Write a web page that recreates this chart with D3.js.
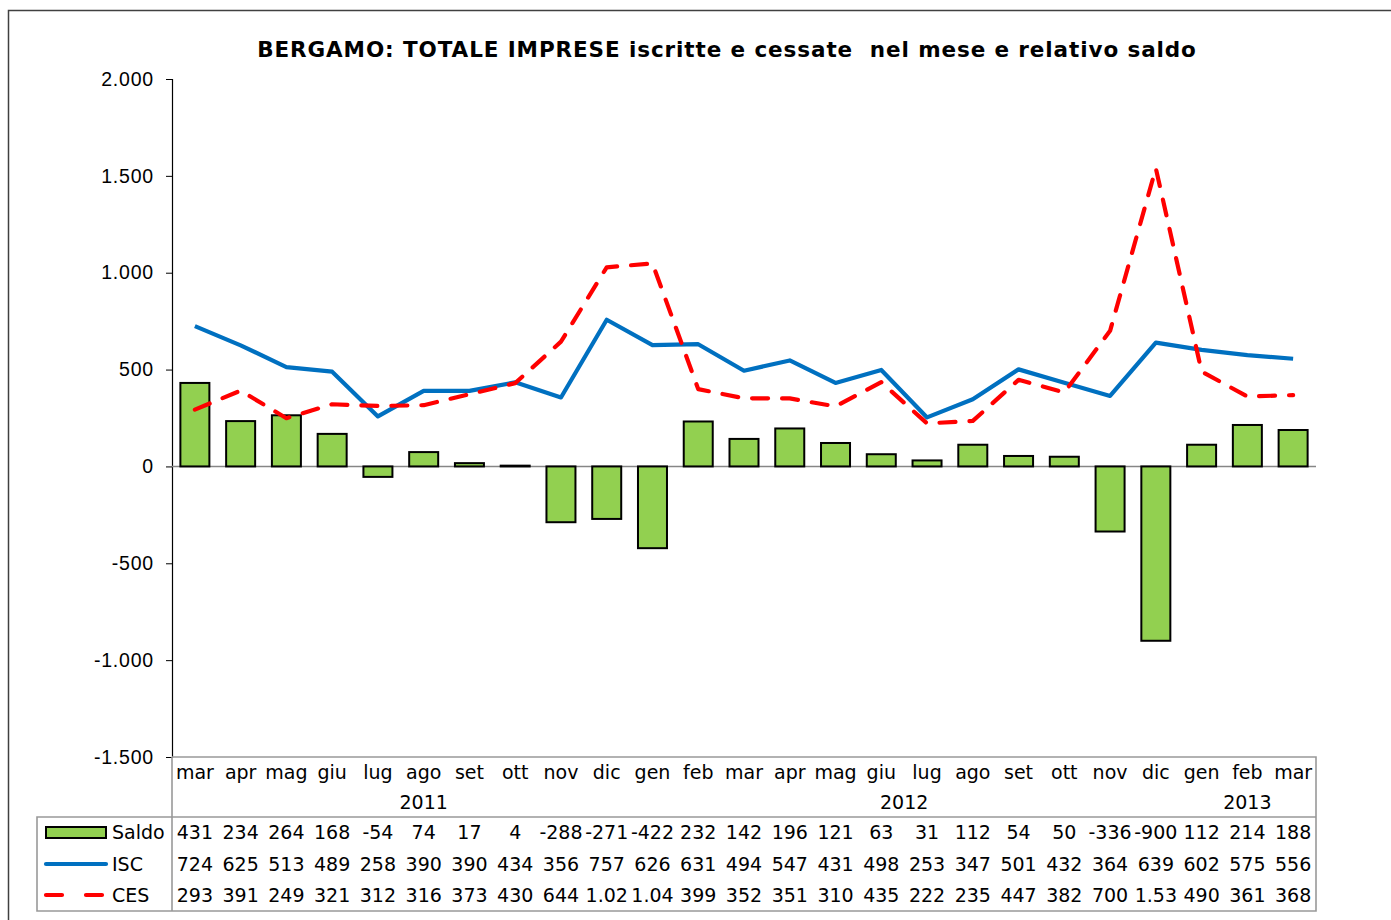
<!DOCTYPE html>
<html>
<head>
<meta charset="utf-8">
<script src="https://cdn.jsdelivr.net/npm/d3@7"></script>
<style>
  body { margin: 0; background: #fff; }
  svg { font-family: "DejaVu Sans", Verdana, sans-serif; }
</style>
</head>
<body>
<div id="chart"></div>
<script>
// months shown on the category axis (mar 2011 -> mar 2013)
const months = ["mar", "apr", "mag", "giu", "lug", "ago", "set", "ott", "nov", "dic",
  "gen", "feb", "mar", "apr", "mag", "giu", "lug", "ago", "set", "ott", "nov", "dic",
  "gen", "feb", "mar"];
// year labels, placed at a category index
const years = [
  { label: "2011", at: 5 },
  { label: "2012", at: 15.5 },
  { label: "2013", at: 23 }
];
const saldo = [431, 234, 264, 168, -54, 74, 17, 4, -288, -271, -422, 232, 142, 196, 121, 63, 31, 112, 54, 50, -336, -900, 112, 214, 188];
const isc = [724, 625, 513, 489, 258, 390, 390, 434, 356, 757, 626, 631, 494, 547, 431, 498, 253, 347, 501, 432, 364, 639, 602, 575, 556];
const ces = [293, 391, 249, 321, 312, 316, 373, 430, 644, 1028, 1048, 399, 352, 351, 310, 435, 222, 235, 447, 382, 700, 1539, 490, 361, 368];
const yTicks = [2000, 1500, 1000, 500, 0, -500, -1000, -1500];

const width = 1391;
const height = 920;
const plot = { left: 172, right: 1316, top: 79, bottom: 757 };

const fmt = d3.formatLocale({ decimal: ",", thousands: ".", grouping: [3], currency: ["", "€"], minus: "-" }).format(",d");
// Excel clips wide numbers in the data table cells
const cellText = (v) => { const s = fmt(v); return s.length > 4 ? s.slice(0, 4) : s; };

const svg = d3.select("#chart").append("svg")
  .attr("width", width)
  .attr("height", height);

// chart area border
svg.append("rect")
  .attr("x", 8.5).attr("y", 10.5)
  .attr("width", width).attr("height", height)
  .attr("fill", "#fff")
  .attr("stroke", "#404040").attr("stroke-width", 1.5);

svg.append("text")
  .attr("x", 727).attr("y", 57)
  .attr("text-anchor", "middle")
  .style("font-size", "21.5px")
  .style("font-weight", "bold")
  .style("letter-spacing", "0.9px")
  .text("BERGAMO: TOTALE IMPRESE iscritte e cessate  nel mese e relativo saldo")
  .attr("xml:space", "preserve")
  .style("white-space", "pre");

const step = (plot.right - plot.left) / months.length;
const cx = (i) => plot.left + step * (i + 0.5);

const y = d3.scaleLinear().domain([-1500, 2000]).range([plot.bottom, plot.top]);

// y axis
const yAxis = d3.axisLeft(y).tickValues(yTicks).tickSize(6).tickPadding(12)
  .tickFormat((d) => fmt(d));
const ya = svg.append("g")
  .attr("transform", `translate(${plot.left},0)`)
  .call(yAxis);
ya.select(".domain").attr("stroke", "#000").attr("stroke-width", 1.2);
ya.selectAll(".tick line").attr("stroke", "#000");
ya.selectAll(".tick text")
  .style("font-size", "19.5px")
  .style("letter-spacing", "0.8px")
  .attr("fill", "#000");

// zero line
svg.append("line")
  .attr("x1", plot.left).attr("x2", plot.right)
  .attr("y1", y(0)).attr("y2", y(0))
  .attr("stroke", "#868686").attr("stroke-width", 1.5);

// Saldo bars
svg.append("g").selectAll("rect")
  .data(saldo)
  .join("rect")
  .attr("x", (d, i) => cx(i) - 14.5)
  .attr("width", 29)
  .attr("y", (d) => Math.min(y(d), y(0)))
  .attr("height", (d) => Math.abs(y(d) - y(0)))
  .attr("fill", "#92D050")
  .attr("stroke", "#000").attr("stroke-width", 2);

const line = d3.line().x((d, i) => cx(i)).y((d) => y(d));

svg.append("path")
  .datum(isc)
  .attr("d", line)
  .attr("fill", "none")
  .attr("stroke", "#0070C0").attr("stroke-width", 4.2)
  .attr("stroke-linejoin", "round");

svg.append("path")
  .datum(ces)
  .attr("d", line)
  .attr("fill", "none")
  .attr("stroke", "#FF0000").attr("stroke-width", 4.2)
  .attr("stroke-dasharray", "16,14")
  .attr("stroke-linecap", "round")
  .attr("stroke-linejoin", "round");

// data table
const tbl = { left: 37, rowTop: 817, bottom: 911 };
const grid = svg.append("g").attr("stroke", "#999").attr("stroke-width", 1.6).attr("fill", "none");
grid.append("path").attr("d",
  `M${plot.left},${plot.bottom}H${plot.right}V${tbl.bottom}H${tbl.left}V${tbl.rowTop}H${plot.right}` +
  `M${plot.left},${plot.bottom}V${tbl.bottom}`);

const txt = svg.append("g").style("font-size", "19px").attr("fill", "#000");

txt.selectAll("text.month")
  .data(months)
  .join("text")
  .attr("class", "month")
  .attr("x", (d, i) => cx(i))
  .attr("y", 779)
  .attr("text-anchor", "middle")
  .text((d) => d);

txt.selectAll("text.year")
  .data(years)
  .join("text")
  .attr("class", "year")
  .attr("x", (d) => cx(d.at))
  .attr("y", 809)
  .attr("text-anchor", "middle")
  .text((d) => d.label);

const rows = [
  { name: "Saldo", values: saldo, y: 832 },
  { name: "ISC", values: isc, y: 864 },
  { name: "CES", values: ces, y: 895 }
];

rows.forEach((r) => {
  txt.append("text")
    .attr("x", 112).attr("y", r.y + 7)
    .text(r.name);
  txt.selectAll(null)
    .data(r.values)
    .join("text")
    .attr("x", (d, i) => cx(i))
    .attr("y", r.y + 7)
    .attr("text-anchor", "middle")
    .text((d) => cellText(d));
});

// legend keys
svg.append("rect")
  .attr("x", 46).attr("y", 827).attr("width", 60).attr("height", 11)
  .attr("fill", "#92D050").attr("stroke", "#000").attr("stroke-width", 2);
svg.append("line")
  .attr("x1", 46).attr("x2", 106).attr("y1", 864).attr("y2", 864)
  .attr("stroke", "#0070C0").attr("stroke-width", 4.2).attr("stroke-linecap", "round");
svg.append("line")
  .attr("x1", 46).attr("x2", 106).attr("y1", 895).attr("y2", 895)
  .attr("stroke", "#FF0000").attr("stroke-width", 4.2)
  .attr("stroke-dasharray", "16,24").attr("stroke-linecap", "round");
</script>
</body>
</html>
